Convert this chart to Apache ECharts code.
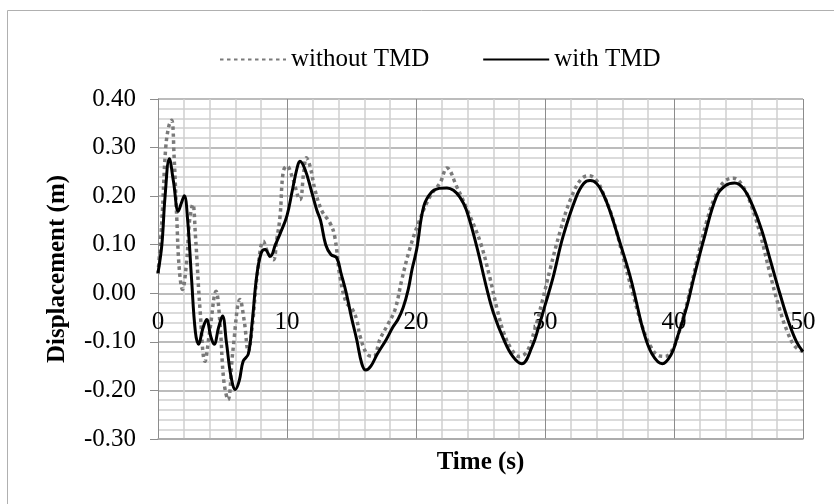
<!DOCTYPE html>
<html>
<head>
<meta charset="utf-8">
<script src="https://cdn.jsdelivr.net/npm/echarts@6/dist/echarts.min.js"></script>
<style>
html,body{margin:0;padding:0;background:#fff;}
#chart{width:834px;height:504px;}
</style>
</head>
<body>
<div id="chart"></div>
<script>
// Time (s) and displacement (m) — without TMD (dotted gray)
var timeWithout = [0,0.3,0.6,0.85,1.06,1.25,1.45,1.65,1.9,2.2,2.45,2.7,2.9,3.26,3.64,4.0,4.5,4.8,5.1,5.43,5.8,6.36,6.7,7.0,7.3,7.7,8.17,8.5,8.94,9.2,9.46,9.71,10.0,10.4,11.0,11.3,11.5,11.8,12.17,12.7,13.33,13.7,14.1,14.6,15.0,15.4,15.66,16.2,16.7,17.2,17.8,18.37,18.9,19.5,20.2,21.1,21.86,22.4,23.15,24.2,25.0,25.7,26.3,26.8,27.4,28.0,28.6,29.2,29.8,30.4,31.2,32.0,32.8,33.4,34.0,34.6,35.3,36.0,36.8,37.5,38.2,38.8,39.3,39.9,40.5,41.1,41.8,42.5,43.2,43.9,44.6,45.3,46.0,46.7,47.4,48.1,48.8,49.4,50.0];
var dispWithout = [0.04,0.15,0.30,0.345,0.356,0.28,0.158,0.05,0.008,0.06,0.15,0.183,0.12,-0.034,-0.14,-0.08,0.004,-0.06,-0.18,-0.219,-0.12,-0.013,-0.06,-0.12,-0.07,0.04,0.107,0.085,0.069,0.11,0.158,0.251,0.262,0.24,0.193,0.25,0.279,0.26,0.213,0.17,0.145,0.117,0.035,-0.02,-0.03,-0.054,-0.088,-0.125,-0.13,-0.095,-0.065,-0.034,0.028,0.09,0.145,0.2,0.227,0.258,0.22,0.158,0.104,0.035,-0.034,-0.081,-0.115,-0.13,-0.12,-0.075,-0.015,0.05,0.13,0.195,0.235,0.242,0.232,0.2,0.15,0.08,0.0,-0.065,-0.11,-0.128,-0.13,-0.115,-0.07,-0.01,0.07,0.145,0.2,0.23,0.237,0.222,0.18,0.12,0.045,-0.025,-0.08,-0.11,-0.12];
// with TMD (solid black)
var timeWith = [0,0.3,0.55,0.88,1.2,1.57,1.8,2.04,2.3,2.6,2.9,3.15,3.45,3.77,4.1,4.35,4.7,5.0,5.3,5.65,6.0,6.3,6.6,7.0,7.3,7.65,8.0,8.3,8.7,9.1,9.5,10.0,10.4,10.8,11.0,11.4,11.9,12.3,12.6,13.0,13.4,13.85,14.2,14.6,15.0,15.4,15.8,16.1,16.5,17.0,17.7,18.2,18.6,19.0,19.4,19.7,20.05,20.6,21.2,21.8,22.4,22.9,23.4,23.9,24.7,25.5,26.0,26.8,27.5,28.2,29.0,29.5,30.0,30.6,31.4,32.4,33.0,33.5,34.0,34.5,35.0,35.8,36.6,37.1,37.6,38.3,39.1,39.8,40.2,41.0,41.5,42.3,43.3,44.0,44.7,45.4,46.1,46.8,47.5,48.2,48.9,49.5,50.0];
var dispWith = [0.042,0.10,0.20,0.277,0.23,0.169,0.185,0.201,0.15,0.03,-0.08,-0.105,-0.075,-0.054,-0.09,-0.105,-0.07,-0.047,-0.10,-0.17,-0.198,-0.18,-0.14,-0.125,-0.06,0.035,0.083,0.09,0.076,0.10,0.125,0.16,0.21,0.26,0.272,0.255,0.21,0.172,0.15,0.10,0.08,0.073,0.04,0.0,-0.05,-0.095,-0.145,-0.158,-0.15,-0.125,-0.095,-0.07,-0.054,-0.03,0.008,0.05,0.09,0.179,0.208,0.216,0.217,0.212,0.198,0.172,0.097,0.008,-0.04,-0.095,-0.13,-0.145,-0.11,-0.07,-0.025,0.03,0.117,0.197,0.226,0.232,0.226,0.205,0.172,0.105,0.035,-0.02,-0.075,-0.125,-0.145,-0.125,-0.095,-0.027,0.028,0.11,0.2,0.222,0.227,0.215,0.18,0.13,0.065,0.0,-0.06,-0.1,-0.12];

var seriesNames = ['without TMD', 'with TMD'];
var xTicks = {min: 0, max: 50, interval: 10};
var yTicks = {min: -0.3, max: 0.4, interval: 0.1};

function zip(a, b) { var r = []; for (var i = 0; i < a.length; i++) r.push([a[i], b[i]]); return r; }

var serif = "'Liberation Serif','Times New Roman',serif";
var FS = 25;
var chart = echarts.init(document.getElementById('chart'));
chart.setOption({
  animation: false,
  backgroundColor: '#ffffff',
  graphic: [{
    type: 'rect', left: 5, top: 8, silent: true,
    shape: {x: 0, y: 0, width: 900, height: 600},
    style: {fill: 'none', stroke: '#b0b0b0', lineWidth: 1}
  }],
  legend: {
    data: seriesNames,
    left: 214, top: 42,
    itemWidth: 66, itemHeight: 14, itemGap: 53,
    itemStyle: {opacity: 0},
    textStyle: {fontFamily: serif, fontSize: FS, color: '#000'}
  },
  grid: {left: 158, right: 31, top: 99, bottom: 65, outerBoundsMode: 'none', containLabel: false},
  xAxis: {
    type: 'value', min: xTicks.min, max: xTicks.max, interval: xTicks.interval,
    axisLine: {onZero: false, lineStyle: {color: '#a6a6a6', width: 1.5}},
    axisTick: {show: false},
    axisLabel: {fontFamily: serif, fontSize: FS, color: '#000', margin: -129},
    splitLine: {show: true, lineStyle: {color: '#8c8c8c', width: 1}},
    minorTick: {show: false, splitNumber: 5},
    minorSplitLine: {show: true, lineStyle: {color: '#d0d0d0', width: 1.5}},
    name: 'Time (s)', nameLocation: 'middle', nameGap: 11,
    nameTextStyle: {fontFamily: serif, fontSize: FS, fontWeight: 'bold', color: '#000', verticalAlign: 'top'}
  },
  yAxis: {
    type: 'value', min: yTicks.min, max: yTicks.max, interval: yTicks.interval,
    axisLine: {show: true, onZero: false, lineStyle: {color: '#8c8c8c', width: 1}},
    axisTick: {show: true, length: 8, lineStyle: {color: '#8c8c8c'}},
    axisLabel: {fontFamily: serif, fontSize: FS, color: '#000', margin: 22,
      formatter: function (v) { return v.toFixed(2); }},
    splitLine: {show: true, lineStyle: {color: '#a6a6a6', width: 1.5}},
    minorTick: {show: false, splitNumber: 5},
    minorSplitLine: {show: true, lineStyle: {color: '#d0d0d0', width: 1.5}},
    name: 'Displacement (m)', nameLocation: 'middle', nameGap: 88,
    nameTextStyle: {fontFamily: serif, fontSize: FS, fontWeight: 'bold', color: '#000'}
  },
  series: [{
    name: seriesNames[0], type: 'line', data: zip(timeWithout, dispWithout),
    smooth: 0.4, symbol: 'none',
    lineStyle: {color: '#7a7a7a', width: 3.5, type: [3.5, 3.5], cap: 'butt'},
    itemStyle: {color: '#7a7a7a'}
  }, {
    name: seriesNames[1], type: 'line', data: zip(timeWith, dispWith),
    smooth: 0.4, symbol: 'none',
    lineStyle: {color: '#000', width: 3, type: 'solid'},
    itemStyle: {color: '#000'}
  }]
});
</script>
</body>
</html>
